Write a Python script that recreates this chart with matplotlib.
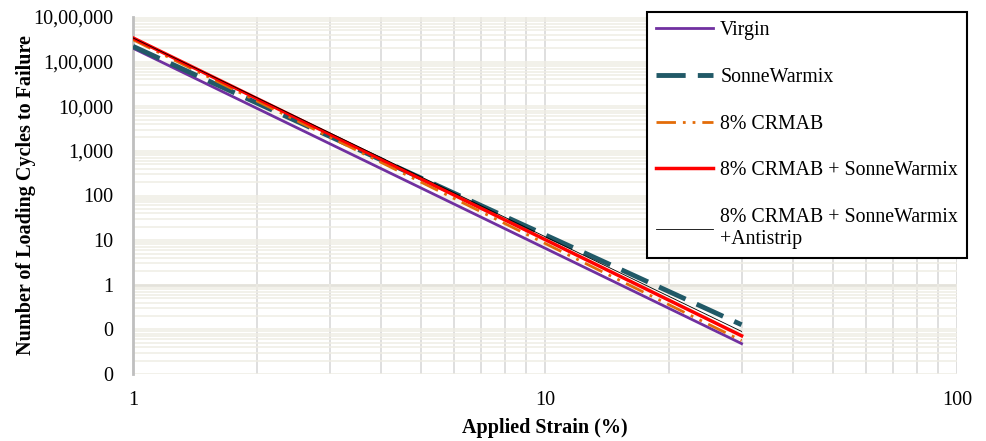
import matplotlib.pyplot as plt
from matplotlib.ticker import FixedLocator, LogLocator, NullFormatter

# strain range of the fitted fatigue lines (%)
strain = [1, 30]

# cycles to failure at the two ends of each line
virgin = [2.0e5, 0.048]
sonne = [2.2e5, 0.127]
crmab = [3.1e5, 0.056]
crmab_sonne = [3.4e5, 0.072]
crmab_sonne_anti = [3.4e5, 0.090]

labels = ["Virgin", "SonneWarmix", "8% CRMAB", "8% CRMAB + SonneWarmix",
          "8% CRMAB + SonneWarmix\n+Antistrip"]

y_ticks = [1e6, 1e5, 1e4, 1e3, 1e2, 1e1, 1, 0.1, 0.01]
y_ticklabels = ["10,00,000", "1,00,000", "10,000", "1,000", "100", "10", "1", "0", "0"]
x_ticks = [1, 10, 100]
x_ticklabels = ["1", "10", "100"]

plt.rcParams['font.family'] = ['Liberation Serif', 'DejaVu Serif']

fig = plt.figure(figsize=(9.86, 4.41), dpi=100)
ax = fig.add_axes([133 / 986, 1 - 374 / 441, (957 - 133) / 986, (374 - 17) / 441])
ax.set_xscale('log')
ax.set_yscale('log')
ax.set_xlim(1, 100)
ax.set_ylim(0.01, 1e6)

# grid, Excel style
ax.yaxis.set_minor_locator(LogLocator(base=10, subs=range(2, 10), numticks=20))
ax.xaxis.set_minor_locator(LogLocator(base=10, subs=range(2, 10), numticks=20))
ax.yaxis.set_minor_formatter(NullFormatter())
ax.xaxis.set_minor_formatter(NullFormatter())
ax.grid(True, axis='y', which='both', color='#efede4', lw=1.1, zorder=0.5)
ax.grid(True, axis='x', which='both', color='#dcdcdc', lw=1.3, zorder=0.6)
ax.axhline(1, color='#bfbfbf', lw=1.8, zorder=1)

for s in ['top', 'bottom', 'right']:
    ax.spines[s].set_visible(False)
ax.spines['left'].set_color('#bfbfbf')
ax.spines['left'].set_linewidth(2)

ax.plot(strain, virgin, color='#7030a0', lw=2, label=labels[0], zorder=3)
ax.plot(strain, sonne, color='#215967', lw=3.5, dashes=(6, 2.5), label=labels[1], zorder=3)
ax.plot(strain, crmab, color='#e36c09', lw=2, dashes=(7, 2.5, 1, 2.5, 1, 2.5),
        label=labels[2], zorder=3)
ax.plot(strain, crmab_sonne, color='#ff0000', lw=2.5, label=labels[3], zorder=3)
ax.plot(strain, crmab_sonne_anti, color='#000000', lw=0.6, label=labels[4], zorder=4)

ax.yaxis.set_major_locator(FixedLocator(y_ticks))
ax.set_yticklabels(y_ticklabels)
ax.xaxis.set_major_locator(FixedLocator(x_ticks))
ax.set_xticklabels(x_ticklabels)
ax.tick_params(axis='both', which='both', length=0, labelsize=14.5)
ax.tick_params(axis='y', pad=14)
ax.tick_params(axis='x', pad=12)

ax.set_xlabel("Applied Strain (%)", fontsize=14.5, fontweight='bold', labelpad=6)
ax.set_ylabel("Number of Loading Cycles to Failure", fontsize=14.5, fontweight='bold', labelpad=-2)

leg = fig.legend(loc='upper right', bbox_to_anchor=(967 / 986, 1 - 12 / 441),
                 fontsize=14.3, frameon=True, fancybox=False, framealpha=1,
                 edgecolor='black', handlelength=2.9, labelspacing=1.4,
                 borderpad=0.45, handletextpad=0.35, borderaxespad=0)
leg.get_frame().set_linewidth(1.5)

fig.savefig('out.png', dpi=100)
